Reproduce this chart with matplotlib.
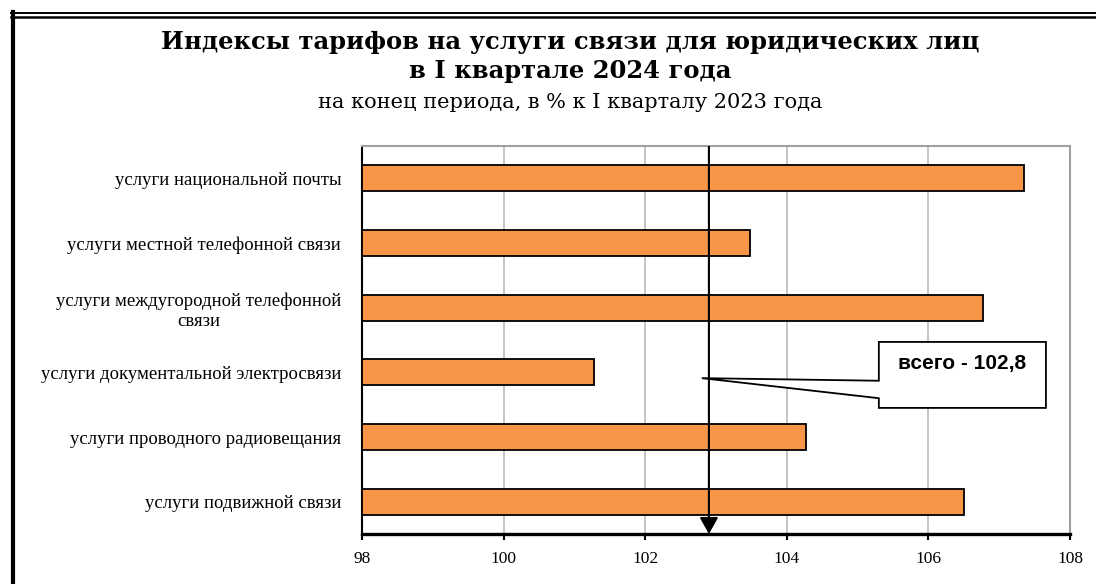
import matplotlib
matplotlib.use("Agg")
import matplotlib.pyplot as plt
from matplotlib.patches import Polygon, FancyArrowPatch
from matplotlib.lines import Line2D

# data
categories = [
    "услуги национальной почты",
    "услуги местной телефонной связи",
    "услуги междугородной телефонной\nсвязи",
    "услуги документальной электросвязи",
    "услуги проводного радиовещания",
    "услуги подвижной связи",
]
values = [107.35, 103.48, 106.77, 101.28, 104.27, 106.5]
total = 102.8
total_label = "всего - 102,8"
arrow_pos = 102.9
xticks = [98, 100, 102, 104, 106, 108]

serif = "Liberation Serif"
wide_serif = "DejaVu Serif"
sans = "Liberation Sans"

fig = plt.figure(figsize=(10.96, 5.84), dpi=100)
ax = fig.add_axes([362 / 1096, 1 - 534 / 584, (1070 - 362) / 1096, (534 - 146) / 584])

ypos = list(range(len(categories)))
ax.barh(ypos, [v - xticks[0] for v in values], left=xticks[0], height=0.4,
        color="#f79646", edgecolor="black", linewidth=1.3, zorder=3)

ax.set_xlim(xticks[0], xticks[-1])
ax.set_ylim(len(categories) - 0.5, -0.5)
ax.set_xticks(xticks)
ax.set_xticklabels([str(t) for t in xticks], fontfamily=serif, fontsize=12.5)
ax.set_yticks(ypos)
ax.set_yticklabels(categories, fontfamily=serif, fontsize=13.5, multialignment="center")
ax.tick_params(axis="y", length=0, pad=15)
ax.tick_params(axis="x", length=4, width=1.5, pad=8, direction="out")

ax.xaxis.grid(True, color="#c0c0c0", linewidth=1.3, zorder=0)
ax.set_axisbelow(True)
for s in ["top", "right"]:
    ax.spines[s].set_color("#a0a0a0")
    ax.spines[s].set_linewidth(1.5)
ax.spines["left"].set_linewidth(1.5)
ax.spines["bottom"].set_linewidth(2.4)

# vertical arrow for the total
arr = FancyArrowPatch((arrow_pos, -0.5), (arrow_pos, len(categories) - 0.5),
                      arrowstyle="-|>,head_length=0.5,head_width=0.28",
                      mutation_scale=20, color="black", linewidth=1.5,
                      shrinkA=0, shrinkB=0, zorder=5)
ax.add_patch(arr)

# callout box
tip_y = 3.09
bx0, bx1 = 105.3, 107.66
by0, by1 = 2.53, 3.55
callout = Polygon([(total, tip_y), (bx0, 3.13), (bx0, by0), (bx1, by0),
                   (bx1, by1), (bx0, by1), (bx0, 3.40)],
                  closed=True, facecolor="white", edgecolor="black",
                  linewidth=1.3, zorder=6)
ax.add_patch(callout)
ax.text((bx0 + bx1) / 2, 2.87, total_label, ha="center", va="center",
        fontfamily=sans, fontweight="bold", fontsize=15, zorder=7)

# titles
fig.text(0.52, 1 - 42 / 584, "Индексы тарифов на услуги связи для юридических лиц",
         ha="center", va="center", fontfamily=wide_serif, fontweight="bold", fontsize=17.5)
fig.text(0.52, 1 - 71 / 584, "в I квартале 2024 года",
         ha="center", va="center", fontfamily=wide_serif, fontweight="bold", fontsize=17.5)
fig.text(0.52, 1 - 103 / 584, "на конец периода, в % к I кварталу 2023 года",
         ha="center", va="center", fontfamily=wide_serif, fontsize=15)

# outer frame
W, H = 1096, 584
fig.add_artist(Line2D([11 / W, 1], [1 - 13 / H] * 2, color="black", linewidth=1.4,
                      transform=fig.transFigure))
fig.add_artist(Line2D([11 / W, 1], [1 - 16.5 / H] * 2, color="black", linewidth=1.8,
                      transform=fig.transFigure))
fig.add_artist(Line2D([13 / W] * 2, [0, 1 - 12 / H], color="black", linewidth=3,
                      transform=fig.transFigure))

fig.savefig("out.png", dpi=100)
